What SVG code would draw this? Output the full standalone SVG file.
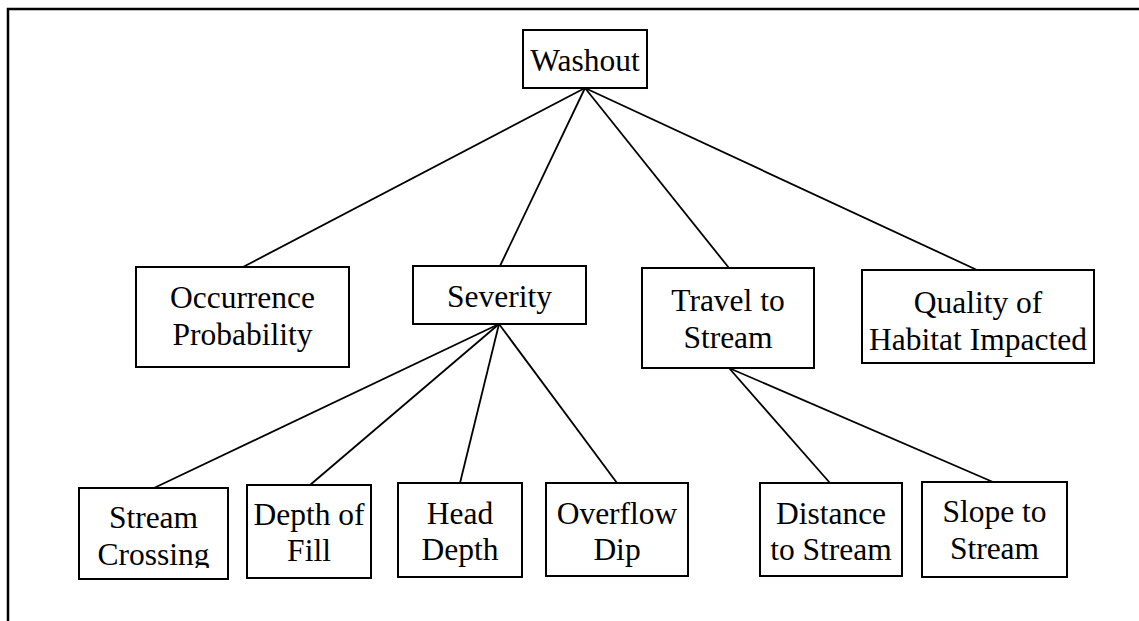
<svg xmlns="http://www.w3.org/2000/svg" width="1139" height="621" viewBox="0 0 1139 621">
  <style>
    .box { fill: #ffffff; stroke: #000000; stroke-width: 2; }
    .lbl { font-family: "Liberation Serif", "Times New Roman", serif; font-size: 31.5px; fill: #000000; text-anchor: middle; }
    .edge { stroke: #000000; stroke-width: 1.8; fill: none; }
    .frame { stroke: #000000; stroke-width: 2.5; fill: none; }
  </style>
  <defs>
    <!-- the text frame of this box is shorter than its label, so the last line is cut -->
    <clipPath id="clip-crossing">
      <rect x="80" y="489" width="147" height="79"/>
    </clipPath>
  </defs>
  <rect x="0" y="0" width="1139" height="621" fill="#ffffff"/>

  <!-- outer frame (top and left edges only are inside the view) -->
  <path class="frame" d="M 8 621 L 8 9 L 1139 9"/>

  <!-- connectors -->
  <g id="connectors">
    <line class="edge" x1="585" y1="88" x2="243" y2="267"/>
    <line class="edge" x1="585" y1="88" x2="500" y2="266"/>
    <line class="edge" x1="585" y1="88" x2="729" y2="268"/>
    <line class="edge" x1="585" y1="88" x2="977" y2="270"/>
    <line class="edge" x1="499" y1="324" x2="154" y2="488"/>
    <line class="edge" x1="499" y1="324" x2="310" y2="485"/>
    <line class="edge" x1="499" y1="324" x2="460" y2="483"/>
    <line class="edge" x1="499" y1="324" x2="617" y2="483"/>
    <line class="edge" x1="729" y1="368" x2="830" y2="483"/>
    <line class="edge" x1="729" y1="368" x2="993" y2="482"/>
  </g>

  <g id="washout">
    <rect class="box" x="523" y="30" width="124" height="58"/>
    <text class="lbl" x="585" y="71">Washout</text>
  </g>

  <g id="occurrence-probability">
    <rect class="box" x="136" y="267" width="213" height="100"/>
    <text class="lbl" x="242.5" y="308">Occurrence</text>
    <text class="lbl" x="242.5" y="345">Probability</text>
  </g>

  <g id="severity">
    <rect class="box" x="413" y="266" width="173" height="58"/>
    <text class="lbl" x="499.5" y="307">Severity</text>
  </g>

  <g id="travel-to-stream">
    <rect class="box" x="642" y="268" width="172" height="100"/>
    <text class="lbl" x="728" y="311">Travel to</text>
    <text class="lbl" x="728" y="348">Stream</text>
  </g>

  <g id="quality-of-habitat">
    <rect class="box" x="862" y="270" width="232" height="93"/>
    <text class="lbl" x="978" y="313">Quality of</text>
    <text class="lbl" x="978" y="350">Habitat Impacted</text>
  </g>

  <g id="stream-crossing">
    <rect class="box" x="79" y="488" width="149" height="91"/>
    <g clip-path="url(#clip-crossing)">
      <text class="lbl" x="153.5" y="528">Stream</text>
      <text class="lbl" x="153.5" y="565">Crossing</text>
    </g>
  </g>

  <g id="depth-of-fill">
    <rect class="box" x="247" y="485" width="124" height="93"/>
    <text class="lbl" x="309" y="525">Depth of</text>
    <text class="lbl" x="309" y="561">Fill</text>
  </g>

  <g id="head-depth">
    <rect class="box" x="398" y="483" width="124" height="94"/>
    <text class="lbl" x="460" y="524">Head</text>
    <text class="lbl" x="460" y="560">Depth</text>
  </g>

  <g id="overflow-dip">
    <rect class="box" x="546" y="483" width="142" height="93"/>
    <text class="lbl" x="617" y="524">Overflow</text>
    <text class="lbl" x="617" y="560">Dip</text>
  </g>

  <g id="distance-to-stream">
    <rect class="box" x="760" y="483" width="142" height="93"/>
    <text class="lbl" x="831" y="524">Distance</text>
    <text class="lbl" x="831" y="560">to Stream</text>
  </g>

  <g id="slope-to-stream">
    <rect class="box" x="922" y="482" width="145" height="95"/>
    <text class="lbl" x="994.5" y="522">Slope to</text>
    <text class="lbl" x="994.5" y="559">Stream</text>
  </g>
</svg>
